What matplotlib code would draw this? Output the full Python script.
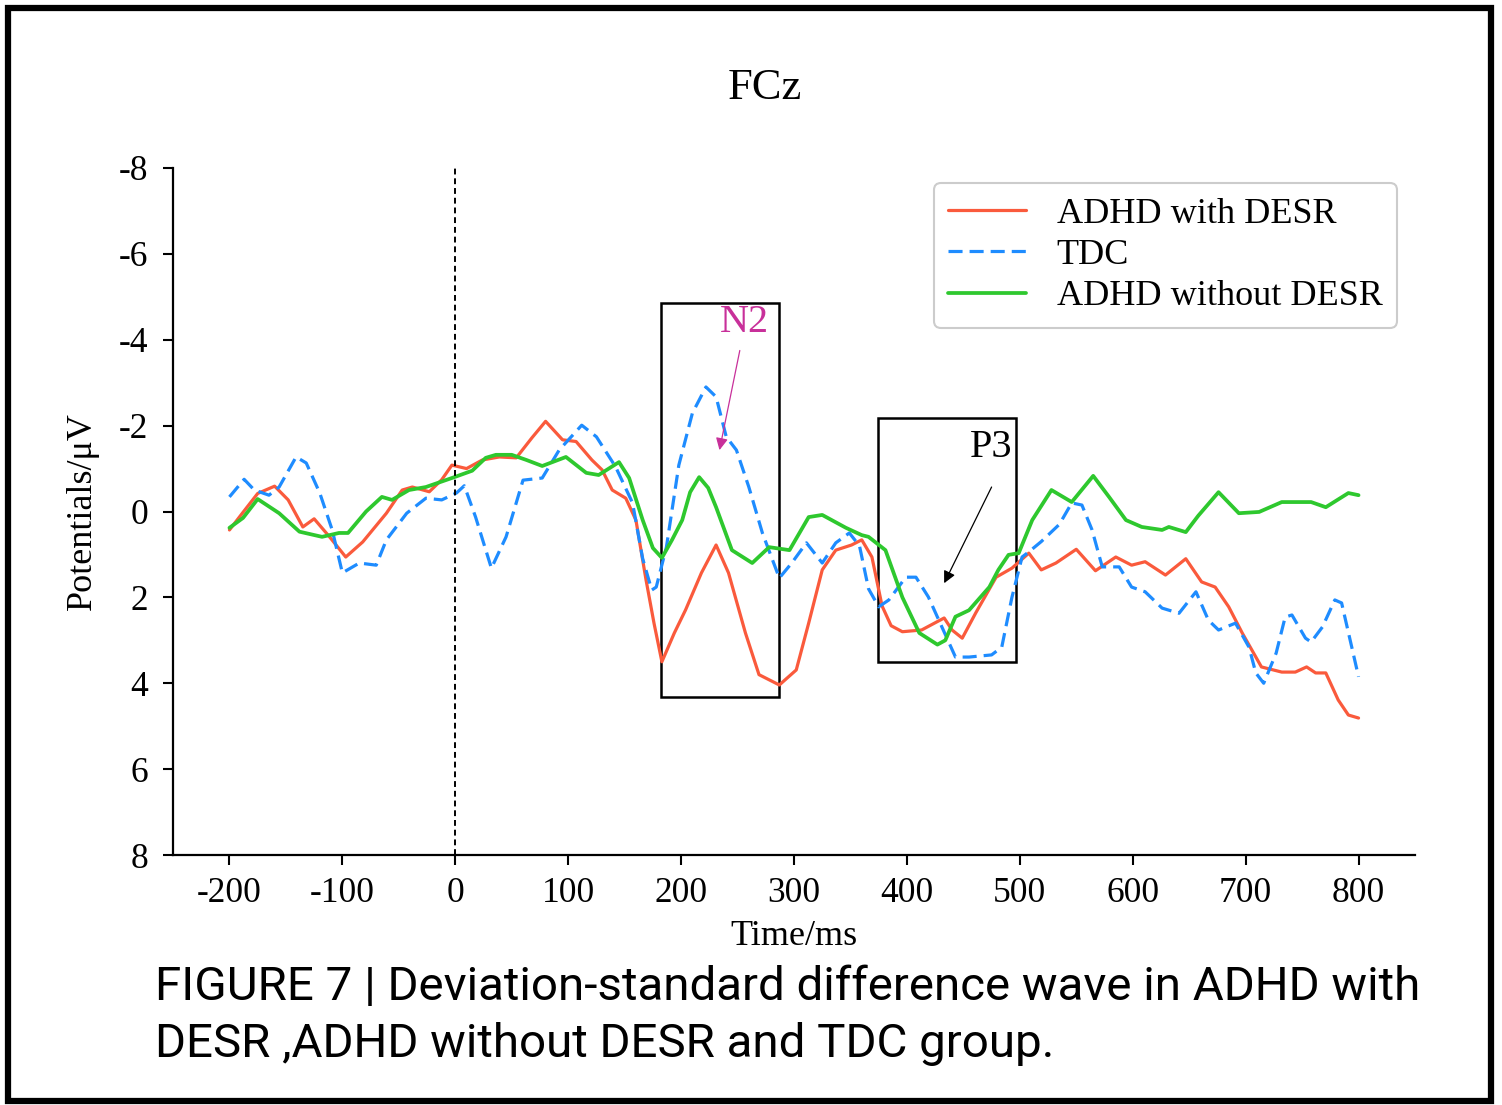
import matplotlib
matplotlib.use("Agg")
import matplotlib.pyplot as plt
from matplotlib.patches import Rectangle

plt.rcParams['font.family'] = ['Liberation Serif', 'DejaVu Serif']
plt.rcParams['axes.unicode_minus'] = False

# difference waves at FCz (time in ms, amplitude in uV)
desr_t = [-200, -188, -175, -160, -148, -135, -125, -112, -97, -82, -61, -47, -38, -23, -12, -3,
          10, 24, 39, 54, 68, 80, 95, 107, 121, 130, 139, 151, 160, 169, 176, 183, 194, 204,
          218, 231, 242, 257, 269, 287, 302, 313, 325, 337, 351, 360, 369, 378, 386, 396,
          413, 433, 440, 449, 461, 479, 493, 508, 519, 532, 550, 567, 585, 599, 611, 629,
          647, 661, 673, 685, 697, 714, 732, 744, 754, 762, 771, 782, 791, 800]
desr_v = [0.43, 0.02, -0.42, -0.59, -0.27, 0.36, 0.17, 0.57, 1.06, 0.71, 0.04, -0.5, -0.57, -0.46,
          -0.74, -1.08, -1.0, -1.2, -1.27, -1.25, -1.72, -2.1, -1.67, -1.63, -1.2, -0.97, -0.5,
          -0.31, 0.2, 1.6, 2.6, 3.5, 2.83, 2.29, 1.43, 0.78, 1.43, 2.83, 3.8, 4.04, 3.69, 2.6,
          1.36, 0.9, 0.78, 0.66, 1.06, 2.2, 2.66, 2.8, 2.76, 2.48, 2.76, 2.95, 2.36, 1.53, 1.32,
          0.97, 1.36, 1.2, 0.88, 1.38, 1.06, 1.25, 1.17, 1.48, 1.1, 1.64, 1.76, 2.22, 2.83,
          3.62, 3.74, 3.74, 3.62, 3.76, 3.76, 4.39, 4.74, 4.81]

tdc_t = [-200, -187, -178, -165, -156, -141, -132, -120, -109, -100, -85, -70, -61, -43, -26,
         -12, 1, 8, 18, 32, 45, 60, 77, 92, 112, 125, 142, 157, 166, 174, 178, 187, 198, 210,
         222, 231, 240, 249, 260, 272, 287, 298, 311, 325, 337, 349, 358, 366, 375, 384, 399,
         408, 419, 431, 443, 455, 475, 484, 493, 502, 508, 519, 535, 546, 555, 564, 573, 588,
         599, 611, 626, 641, 656, 667, 676, 691, 703, 709, 716, 727, 735, 741, 753, 758, 768,
         779, 785, 794, 800]
tdc_v = [-0.34, -0.75, -0.5, -0.38, -0.57, -1.27, -1.13, -0.43, 0.43, 1.43, 1.2, 1.25, 0.66,
         0.04, -0.31, -0.27, -0.43, -0.6, 0.13, 1.32, 0.59, -0.73, -0.78, -1.43, -2.01, -1.74,
         -1.04, -0.2, 1.1, 1.83, 1.76, 0.83, -1.08, -2.29, -2.9, -2.67, -1.74, -1.43, -0.57,
         0.5, 1.55, 1.2, 0.73, 1.2, 0.73, 0.5, 0.8, 1.8, 2.22, 2.06, 1.53, 1.53, 1.99, 2.69,
         3.39, 3.39, 3.34, 3.16, 2.0, 1.06, 0.94, 0.7, 0.3, -0.2, -0.15, 0.43, 1.29, 1.29, 1.76,
         1.87, 2.25, 2.37, 1.87, 2.53, 2.76, 2.6, 3.16, 3.76, 4.0, 3.3, 2.46, 2.41, 2.95, 3.04,
         2.69, 2.06, 2.13, 3.16, 3.85]

nodesr_t = [-200, -188, -175, -156, -138, -118, -103, -95, -79, -65, -56, -41, -26, -3, 15, 27,
            36, 50, 63, 77, 98, 116, 127, 145, 154, 166, 175, 183, 192, 201, 208, 216, 224, 231,
            245, 263, 278, 296, 313, 325, 346, 360, 366, 381, 396, 411, 427, 434, 443, 455, 473,
            481, 490, 499, 511, 528, 546, 565, 579, 594, 608, 626, 632, 647, 658, 676, 694, 712,
            732, 744, 758, 771, 791, 800]
nodesr_v = [0.38, 0.15, -0.29, 0.04, 0.47, 0.59, 0.5, 0.5, 0.0, -0.34, -0.27, -0.5, -0.57, -0.78,
            -0.95, -1.25, -1.32, -1.32, -1.2, -1.06, -1.27, -0.9, -0.85, -1.15, -0.78, 0.2, 0.85,
            1.08, 0.66, 0.2, -0.45, -0.8, -0.55, -0.1, 0.9, 1.2, 0.83, 0.9, 0.13, 0.08, 0.38,
            0.55, 0.59, 0.9, 2.0, 2.83, 3.1, 3.0, 2.45, 2.3, 1.76, 1.36, 1.01, 0.97, 0.2, -0.5,
            -0.22, -0.83, -0.34, 0.2, 0.36, 0.43, 0.36, 0.48, 0.1, -0.45, 0.04, 0.01, -0.22,
            -0.22, -0.22, -0.1, -0.43, -0.38]

xticks = [-200, -100, 0, 100, 200, 300, 400, 500, 600, 700, 800]
yticks = [-8, -6, -4, -2, 0, 2, 4, 6, 8]

# component windows: (t_start, t_end, v_top, v_bottom)
n2_box = (182, 287, -4.86, 4.32)
p3_box = (374, 497, -2.18, 3.5)

W, H = 1502, 1105
fig = plt.figure(figsize=(W / 100, H / 100), dpi=100)
ax = fig.add_axes([173 / W, 1 - 855 / H, (1415 - 173) / W, (855 - 168) / H])

line_kw = dict(solid_joinstyle='round', solid_capstyle='round', dash_joinstyle='round')
ax.plot(desr_t, desr_v, color='#fa5a3c', lw=2.3, label='ADHD with DESR', **line_kw)
ax.plot(tdc_t, tdc_v, color='#1e8cff', lw=2.3, ls=(0, (4.4, 2.2)), label='TDC', **line_kw)
ax.plot(nodesr_t, nodesr_v, color='#2ec82e', lw=2.7, label='ADHD without DESR', **line_kw)
ax.axvline(0, color='k', lw=1.4, ls=(0, (3, 2)))

for t0, t1, v0, v1 in (n2_box, p3_box):
    ax.add_patch(Rectangle((t0, v0), t1 - t0, v1 - v0, fill=False, ec='k', lw=1.8))

# component labels and pointer arrows
n2_col = '#c8309a'
ax.text(256, -4.41, 'N2', color=n2_col, fontsize=29, ha='center', va='center')
ax.annotate('', xy=(234, -1.43), xytext=(252, -3.75),
            arrowprops=dict(arrowstyle='-|>', color=n2_col, lw=0.9, mutation_scale=18,
                            shrinkA=0, shrinkB=0))
ax.text(475, -1.5, 'P3', color='k', fontsize=29, ha='center', va='center')
ax.annotate('', xy=(433, 1.67), xytext=(475, -0.57),
            arrowprops=dict(arrowstyle='-|>', color='k', lw=0.9, mutation_scale=18,
                            shrinkA=0, shrinkB=0))

ax.set_xlim(-250, 850)
ax.set_ylim(8, -8)
ax.set_xticks(xticks)
ax.set_yticks(yticks)
ax.tick_params(labelsize=25.5, length=7, width=1.5, direction='out')
ax.tick_params(axis='x', pad=9)
ax.tick_params(axis='y', pad=11)
for s in ('top', 'right'):
    ax.spines[s].set_visible(False)
for s in ('left', 'bottom'):
    ax.spines[s].set_linewidth(1.6)

ax.set_xlabel('Time/ms', fontsize=26, labelpad=7)
ax.set_ylabel('Potentials/μV', fontsize=26, labelpad=14)

leg = ax.legend(loc='upper right', bbox_to_anchor=(0.9855, 0.978), borderaxespad=0,
                fontsize=26, handlelength=2.15, handletextpad=0.85, labelspacing=0.22,
                frameon=True, fancybox=True, edgecolor='#cccccc', framealpha=1,
                borderpad=0.4)
leg.get_frame().set_linewidth(1.5)

fig.text(765 / W, 1 - 88 / H, 'FCz', fontsize=32, ha='center', va='center')

cap_font = ['Roboto', 'DejaVu Sans']
fig.text(155 / W, 1 - 1000 / H, 'FIGURE 7 | Deviation-standard difference wave in ADHD with',
         fontsize=34.2, family=cap_font, ha='left', va='baseline')
fig.text(155 / W, 1 - 1057 / H, 'DESR ,ADHD without DESR and TDC group.',
         fontsize=34.2, family=cap_font, ha='left', va='baseline')

# outer frame around the whole figure
fig.patches.append(Rectangle((8 / W, 4 / H), (1491 - 8) / W, (1097 - 4) / H,
                             transform=fig.transFigure, fill=False, ec='k', lw=4.5))

fig.savefig('out.png', dpi=100)
